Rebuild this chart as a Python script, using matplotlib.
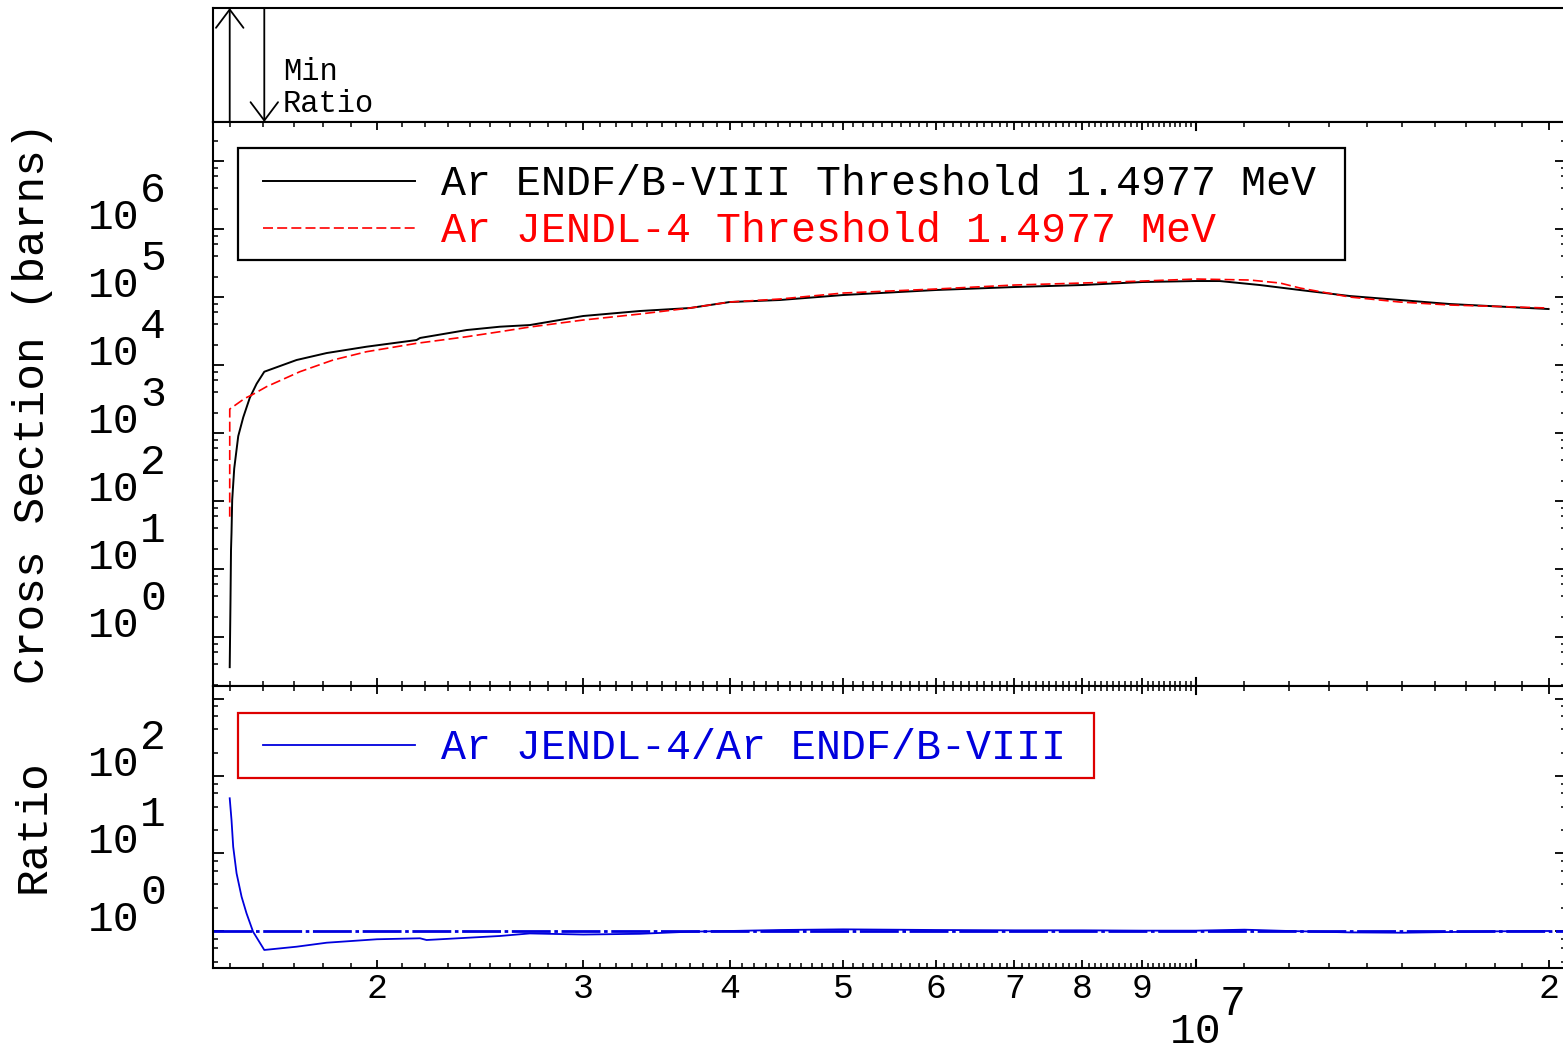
import numpy as np
import matplotlib
matplotlib.use('Agg')
import matplotlib.pyplot as plt
from matplotlib.lines import Line2D
from matplotlib.patches import Rectangle
from matplotlib.ticker import LogLocator, FixedLocator, NullFormatter
from matplotlib.transforms import blended_transform_factory, offset_copy

plt.rcParams['font.family'] = ['Liberation Mono', 'DejaVu Sans Mono']

# ENDF/B-VIII cross section (energy in MeV, barns)
endf_e = [1.4977, 1.500, 1.5015, 1.503, 1.505, 1.511, 1.523, 1.538, 1.558, 1.579,
          1.603, 1.708, 1.812, 1.960, 2.162, 2.177, 2.386, 2.547, 2.701, 3.0,
          3.354, 3.700, 4.0, 4.416, 5.0, 6.0, 7.0, 8.0, 9.0, 10.0,
          10.48, 11.34, 12.27, 13.53, 14.93, 16.47, 20.0]
endf_xs = [0.36, 3.5, 19, 34, 103, 300, 900, 1700, 3300, 5300,
           7970, 11850, 15000, 18600, 23300, 25000, 32700, 36600, 38700, 52600,
           62300, 68900, 84400, 90400, 107000, 126800, 140300, 150100, 166200, 171800,
           171800, 150100, 126800, 103500, 90400, 78900, 66600]

# JENDL-4 cross section
jendl_e = [1.4977, 1.4978, 1.543, 1.564, 1.610, 1.719, 1.835, 1.960, 2.162, 2.386,
           2.547, 2.701, 3.0, 3.354, 3.700, 4.0, 4.416, 5.0, 6.0, 7.0,
           8.0, 9.0, 10.0, 11.12, 11.80, 12.27, 13.53, 14.93, 16.47, 20.0]
jendl_xs = [58.8, 2250, 3240, 3620, 4800, 7970, 11850, 15700, 20840, 26070,
            30900, 36200, 45900, 56230, 68890, 84400, 93500, 114500, 131200, 150100,
            160600, 171800, 183900, 177800, 160600, 135600, 100000, 84400, 76300, 68890]

# ratio JENDL-4 / ENDF/B-VIII
ratio_e = [1.4977, 1.503, 1.508, 1.518, 1.533, 1.548, 1.568, 1.603, 1.708, 1.812,
           2.0, 2.177, 2.205, 2.547, 2.701, 3.0, 3.354, 3.70, 4.0, 4.416,
           5.0, 6.0, 7.0, 8.0, 9.0, 10.0, 11.0, 12.0, 13.5, 15.0,
           16.5, 18.0, 20.0]
ratio = [51.6, 27, 12.2, 5.55, 2.77, 1.69, 0.98, 0.569, 0.627, 0.706,
         0.782, 0.805, 0.765, 0.862, 0.93, 0.90, 0.92, 0.98, 1.0, 1.03,
         1.05, 1.03, 1.02, 1.02, 1.01, 1.01, 1.04, 1.0, 0.96, 0.95,
         0.97, 0.99, 1.0]

label_endf = 'Ar ENDF/B-VIII Threshold 1.4977 MeV'
label_jendl = 'Ar JENDL-4 Threshold 1.4977 MeV'
label_ratio = 'Ar JENDL-4/Ar ENDF/B-VIII'
xs_exps = [0, 1, 2, 3, 4, 5, 6]
ratio_exps = [0, 1, 2]
x_labels = [2, 3, 4, 5, 6, 7, 8, 9, 20]

W, H = 1563, 1051
fig = plt.figure(figsize=(W / 100, H / 100), dpi=100)

def fx(x):
    return x / W

def fy(y):
    return 1 - y / H

L, R = 213, 1566
ax_top = fig.add_axes([fx(L), fy(122), (R - L) / W, 114 / H])
ax = fig.add_axes([fx(L), fy(686), (R - L) / W, 564 / H])
axr = fig.add_axes([fx(L), fy(968), (R - L) / W, 282 / H])

xlim = (1.4493e6, 2.0697e7)
ev_endf = np.array(endf_e) * 1e6
ev_jendl = np.array(jendl_e) * 1e6
ev_ratio = np.array(ratio_e) * 1e6

for a in (ax_top, ax, axr):
    a.set_xscale('log')
    a.set_xlim(*xlim)
    for s in a.spines.values():
        s.set_linewidth(1.5)

ax_top.set_ylim(0, 1)
ax_top.tick_params(which='both', bottom=False, top=False, left=False, right=False,
                   labelbottom=False, labelleft=False)

minor_x = [v * 1e5 for v in range(15, 100) if v % 10 != 0] + [v * 1e6 for v in range(11, 20)]
major_x = [v * 1e6 for v in range(2, 10)] + [2e7]

for a, hpx in ((ax, 564), (axr, 282)):
    a.set_yscale('log')
    a.xaxis.set_major_locator(FixedLocator(major_x))
    a.xaxis.set_minor_locator(FixedLocator(minor_x))
    a.xaxis.set_major_formatter(NullFormatter())
    a.xaxis.set_minor_formatter(NullFormatter())
    a.yaxis.set_major_locator(LogLocator(base=10, numticks=50))
    a.yaxis.set_minor_locator(LogLocator(base=10, subs=(2., 4., 6., 8.), numticks=50))
    a.yaxis.set_major_formatter(NullFormatter())
    a.yaxis.set_minor_formatter(NullFormatter())
    a.tick_params(axis='x', which='major', direction='in', length=6, width=1.3,
                  top=True, bottom=True, labelbottom=False)
    a.tick_params(axis='x', which='minor', direction='in', length=3.5, width=1.1,
                  top=True, bottom=True)
    a.tick_params(axis='y', which='major', direction='in', length=8, width=1.3,
                  left=True, right=True, labelleft=False)
    a.tick_params(axis='y', which='minor', direction='in', length=3.5, width=1.1,
                  left=True, right=True)
    tr = a.get_xaxis_transform()
    f = 8 / hpx
    a.plot([1e7, 1e7], [0, f], color='k', lw=1.5, transform=tr, clip_on=False)
    a.plot([1e7, 1e7], [1 - f, 1], color='k', lw=1.5, transform=tr, clip_on=False)

ax.set_ylim(0.1903, 3.75e7)
axr.set_ylim(0.333, 1450)

# curves
ax.plot(ev_endf, endf_xs, color='black', lw=1.4)
ax.plot(ev_jendl, jendl_xs, color='red', lw=1.2, ls=(0, (6, 2.5)))
axr.axhline(1.0, color='#0000dd', lw=2, ls=(0, (14, 1.3, 1.3, 1.3)))
axr.plot(ev_ratio, ratio, color='#0000dd', lw=1.3)

# max / min ratio arrows
e_max = ev_ratio[int(np.argmax(ratio))]
e_min = ev_ratio[int(np.argmin(ratio))]
head = '->,head_length=0.6,head_width=0.45'
ax_top.annotate('', xy=(e_max, 1.0), xytext=(e_max, 0.0),
                xycoords=('data', 'axes fraction'),
                arrowprops=dict(arrowstyle=head, lw=1.3, color='k', mutation_scale=22,
                                shrinkA=0, shrinkB=0))
ax_top.annotate('', xy=(e_min, 0.0), xytext=(e_min, 1.0),
                xycoords=('data', 'axes fraction'),
                arrowprops=dict(arrowstyle=head, lw=1.3, color='k', mutation_scale=22,
                                shrinkA=0, shrinkB=0))
fig.text(fx(283), fy(80), 'Min', fontsize=22, va='baseline', ha='left')
fig.text(fx(283), fy(112), 'Ratio', fontsize=22, va='baseline', ha='left')

# legend boxes
fig.add_artist(Rectangle((fx(238), fy(260)), (1345 - 238) / W, 112 / H,
                         transform=fig.transFigure, fill=False, ec='black', lw=1.6))
fig.add_artist(Line2D([fx(263), fx(415)], [fy(181)] * 2, transform=fig.transFigure,
                      color='black', lw=1.4))
fig.add_artist(Line2D([fx(263), fx(415)], [fy(228)] * 2, transform=fig.transFigure,
                      color='red', lw=1.2, ls=(0, (6, 2.5))))
fig.text(fx(441), fy(195), label_endf, fontsize=30, color='black', va='baseline')
fig.text(fx(441), fy(242), label_jendl, fontsize=30, color='red', va='baseline')

fig.add_artist(Rectangle((fx(238), fy(778)), (1094 - 238) / W, 65 / H,
                         transform=fig.transFigure, fill=False, ec='#dd0000', lw=1.6))
fig.add_artist(Line2D([fx(263), fx(415)], [fy(745)] * 2, transform=fig.transFigure,
                      color='#0000dd', lw=1.3))
fig.text(fx(441), fy(759), label_ratio, fontsize=30, color='#0000dd', va='baseline')

# y tick labels
for a, exps in ((ax, xs_exps), (axr, ratio_exps)):
    tr = blended_transform_factory(fig.transFigure, a.transData)
    tr_sup = offset_copy(tr, fig=fig, y=27, units='dots')
    for n in exps:
        a.text(fx(139), 10.0 ** n, '10', transform=tr, ha='right', va='baseline',
               fontsize=31)
        a.text(fx(140), 10.0 ** n, str(n), transform=tr_sup, ha='left', va='baseline',
               fontsize=31)

# x tick labels
trx = blended_transform_factory(axr.transData, fig.transFigure)
for v in x_labels:
    e = v * 1e6
    axr.text(e, fy(998), str(v if v < 10 else v // 10), transform=trx, ha='center',
             va='baseline', fontsize=25)
axr.text(1e7, fy(1043), '10', transform=trx, ha='center', va='baseline', fontsize=31)
axr.text(1e7, fy(1015), '7', transform=offset_copy(trx, fig=fig, x=24, units='dots'),
         ha='left', va='baseline', fontsize=31)

fig.text(fx(33), fy(403), 'Cross Section (barns)', rotation=90, ha='center',
         va='center', fontsize=32)
fig.text(fx(33), fy(826), 'Ratio', rotation=90, ha='center', va='center', fontsize=32)

fig.savefig('out.png', dpi=100)
